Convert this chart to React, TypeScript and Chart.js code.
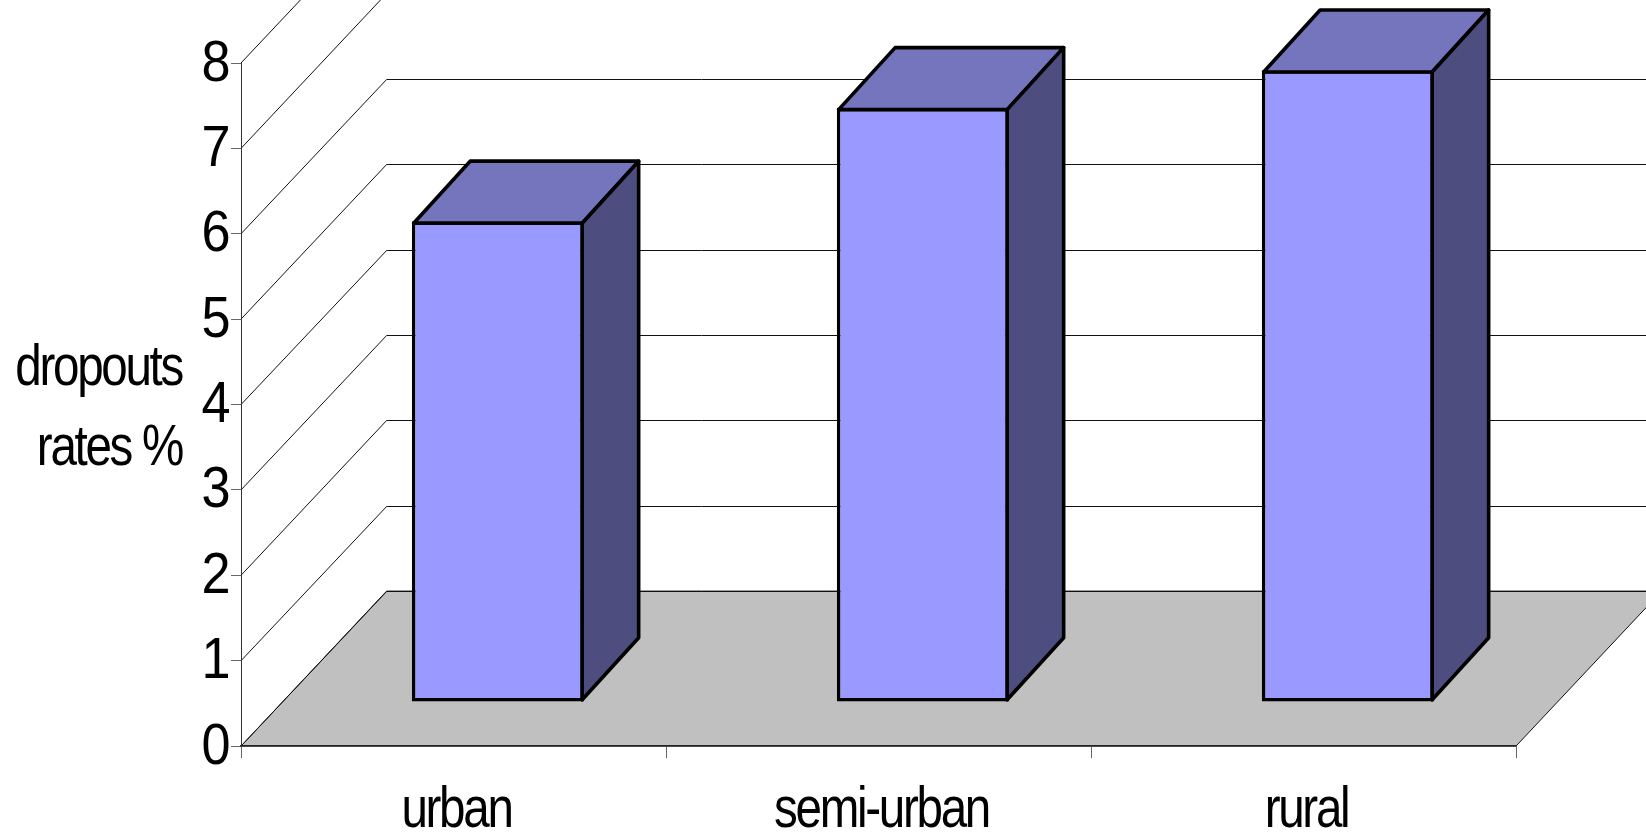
import React, { useEffect, useRef } from "react";
import { Chart, registerables } from "chart.js";

Chart.register(...registerables);

const categories = ["urban", "semi-urban", "rural"];
const dropoutRates = [5.63, 6.96, 7.4];
const yAxisTitleLines = ["dropouts", "rates %"];
const yMin = 0;
const yMax = 8;

const FONT = "'Liberation Sans', Arial, sans-serif";
const FONT_SIZE = 58;
const LETTER_SPACING = "-2.8px";
const TEXT_SQUEEZE = 0.82;
const DIGIT_SQUEEZE = 0.9;

// wall depth, bar placement on floor and bar depth (px)
const WALL_DX = 145.6;
const WALL_DY = -155;
const BAR_DX = 44.4;
const BAR_DY = -44;
const BAR_DEPTH_X = 56.5;
const BAR_DEPTH_Y = -62;
const BAR_LINE = 3.6;

const plugin3d = {
  id: "plugin3d",
  beforeDraw(chart: any) {
    const { ctx, scales } = chart;
    const x = scales.x;
    const y = scales.y;
    (ctx as any).letterSpacing = LETTER_SPACING;
    if (!ctx.__squeezed) {
      // the reference's type is horizontally condensed: squeeze each label round its anchor
      const original = ctx.fillText.bind(ctx);
      ctx.fillText = (text: string, tx: number, ty: number) => {
        ctx.save();
        ctx.translate(tx, ty);
        ctx.scale(text.length === 1 ? DIGIT_SQUEEZE : TEXT_SQUEEZE, 1);
        original(text, 0, 0);
        ctx.restore();
      };
      ctx.__squeezed = true;
    }
    const left = x.left;
    const right = x.right;
    const y0 = y.getPixelForValue(yMin);
    ctx.save();
    ctx.beginPath();
    ctx.moveTo(left, y0);
    ctx.lineTo(right, y0);
    ctx.lineTo(right + WALL_DX, y0 + WALL_DY);
    ctx.lineTo(left + WALL_DX, y0 + WALL_DY);
    ctx.closePath();
    ctx.fillStyle = "#c0c0c0";
    ctx.fill();
    ctx.strokeStyle = "#111";
    ctx.lineWidth = 1;
    ctx.stroke();
    for (let v = yMin; v <= yMax; v++) {
      const py = y.getPixelForValue(v);
      const backY = Math.round(py + WALL_DY) + 0.5;
      ctx.beginPath();
      ctx.moveTo(left, py);
      ctx.lineTo(left + WALL_DX, backY);
      ctx.lineTo(1646, backY);
      ctx.stroke();
    }
    ctx.restore();
  },
  beforeDatasetDraw(chart: any) {
    const ctx = chart.ctx;
    ctx.save();
    ctx.translate(BAR_DX, BAR_DY);
  },
  afterDatasetDraw(chart: any, args: any) {
    const ctx = chart.ctx;
    const meta = chart.getDatasetMeta(args.index);
    ctx.lineWidth = BAR_LINE;
    ctx.strokeStyle = "#000";
    ctx.lineJoin = "round";
    const inset = BAR_LINE / 2;
    meta.data.forEach((el: any) => {
      const props = el.getProps(["x", "y", "base", "width"], true);
      const l = props.x - props.width / 2 + inset;
      const r = props.x + props.width / 2 - inset;
      const t = props.y + inset;
      const b = props.base - inset;
      ctx.beginPath();
      ctx.moveTo(l, t);
      ctx.lineTo(l + BAR_DEPTH_X, t + BAR_DEPTH_Y);
      ctx.lineTo(r + BAR_DEPTH_X, t + BAR_DEPTH_Y);
      ctx.lineTo(r, t);
      ctx.closePath();
      ctx.fillStyle = "#7575bd";
      ctx.fill();
      ctx.stroke();
      ctx.beginPath();
      ctx.moveTo(r, t);
      ctx.lineTo(r + BAR_DEPTH_X, t + BAR_DEPTH_Y);
      ctx.lineTo(r + BAR_DEPTH_X, b + BAR_DEPTH_Y);
      ctx.lineTo(r, b);
      ctx.closePath();
      ctx.fillStyle = "#4d4d7f";
      ctx.fill();
      ctx.stroke();
    });
    ctx.restore();
  },
  afterDraw(chart: any) {
    const ctx = chart.ctx;
    ctx.save();
    ctx.font = `${FONT_SIZE}px ${FONT}`;
    ctx.fillStyle = "#000";
    ctx.textAlign = "right";
    ctx.textBaseline = "alphabetic";
    ctx.fillText(yAxisTitleLines[0], 182, 385);
    ctx.fillText(yAxisTitleLines[1], 182, 465);
    ctx.restore();
  },
};

export default function App() {
  const ref = useRef<HTMLCanvasElement>(null);
  useEffect(() => {
    document.body.style.margin = "0";
    document.body.style.background = "#fff";
    const chart = new Chart(ref.current!, {
      type: "bar",
      data: {
        labels: categories,
        datasets: [
          {
            data: dropoutRates,
            backgroundColor: "#9999ff",
            borderColor: "#000",
            borderWidth: BAR_LINE,
            borderSkipped: false,
            barPercentage: 0.405,
            categoryPercentage: 1,
            clip: false as any,
          },
        ],
      },
      options: {
        animation: false,
        responsive: false,
        devicePixelRatio: 1,
        layout: { padding: { left: 0, right: 130, top: 63, bottom: 0 } },
        plugins: { legend: { display: false }, tooltip: { enabled: false }, title: { display: false } },
        scales: {
          x: {
            afterFit: (s: any) => {
              s.height = 89.9;
            },
            grid: { drawOnChartArea: false, offset: true, tickLength: 12, color: "#666", lineWidth: 1 },
            border: { color: "#222", width: 1.5 },
            ticks: {
              font: { family: FONT, size: FONT_SIZE },
              color: "#000",
              padding: 18,
              labelOffset: 3,
              autoSkip: false,
              maxRotation: 0,
            },
          },
          y: {
            min: yMin,
            max: yMax,
            afterFit: (s: any) => {
              s.width = 241;
            },
            grid: { drawOnChartArea: false, tickLength: 10, color: "#666", lineWidth: 1 },
            border: { color: "#333" },
            ticks: {
              stepSize: 1,
              font: { family: FONT, size: FONT_SIZE },
              color: "#000",
              padding: 3,
              labelOffset: 1.5,
            },
          },
        },
      },
      plugins: [plugin3d],
    } as any);
    return () => chart.destroy();
  }, []);
  return (
    <canvas
      ref={ref}
      width={1646}
      height={836}
      style={{ display: "block", position: "absolute", left: 0, top: 0, width: 1646, height: 836 }}
    />
  );
}
